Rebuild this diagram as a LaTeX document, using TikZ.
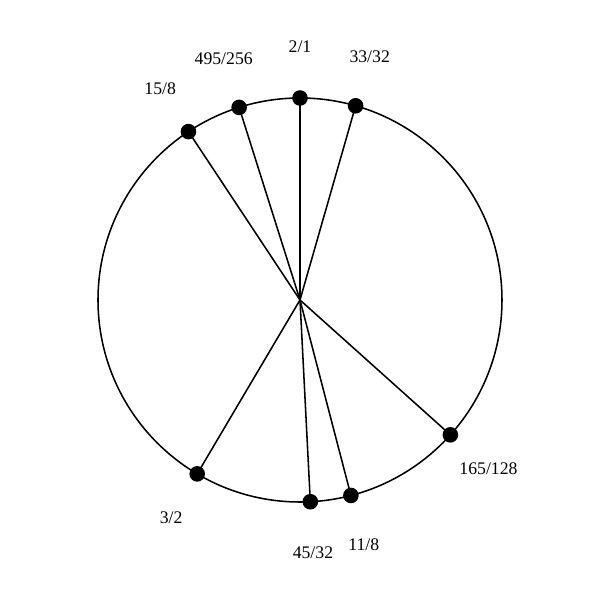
\documentclass[tikz,border=0pt]{standalone}
\usepackage{fontspec}
\setmainfont{Liberation Serif}
\begin{document}
\begin{tikzpicture}[
  dot/.style={circle,fill=black,inner sep=0pt,minimum size=0.39cm},
  lbl/.style={font=\fontsize{12.6}{14}\selectfont,inner sep=0pt},
  spoke/.style={line width=1.1pt},
]
\useasboundingbox (-7.5,-7.5) rectangle (7.5,7.5);
\coordinate (c) at (0,0);
\draw[line width=1.1pt] (c) circle (5.05);
\foreach \n/\a/\t in {p1/90/2\slash 1, p2/74.02/33\slash 32, p3/107.54/495\slash 256, p4/123.52/15\slash 8, p5/-41.88/165\slash 128, p6/-75.40/11\slash 8, p7/-87.07/45\slash 32, p8/-120.59/3\slash 2}{
  \draw[spoke] (c) -- (\a:5.05) node[dot] (\n) {};
  \node[lbl] (\n l) at (\a:6.33) {\t};
}
\end{tikzpicture}
\end{document}
